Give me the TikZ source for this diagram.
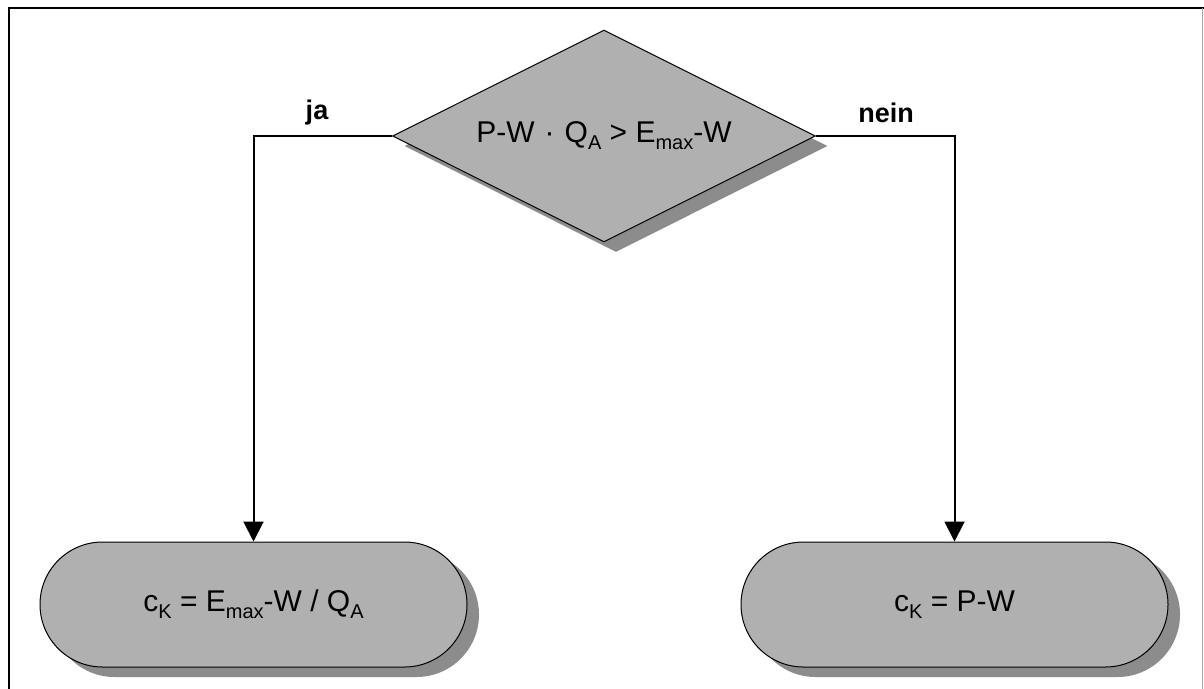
\documentclass[tikz,border=0pt]{standalone}
\usepackage{fontspec}
\setmainfont{Liberation Sans}
\usetikzlibrary{shapes.geometric,shapes.misc,shadows,arrows.meta}

% lowered, smaller index text
\newcommand\idx[1]{\raisebox{-7pt}{\fontsize{20}{20}\selectfont #1}}

\begin{document}
\begin{tikzpicture}[x=1pt,y=-1pt,
  boxfill/.style={fill=black!31, draw=black, line width=1pt},
  boxshadow/.style={drop shadow={shadow xshift=12pt, shadow yshift=-10pt,
                    fill=black!45, opacity=1}},
  decision/.style={diamond, aspect=2, boxfill, boxshadow, inner sep=0pt,
                   minimum width=423pt, minimum height=212pt,
                   font=\fontsize{30}{32}\selectfont},
  terminal/.style={rounded rectangle, boxfill, boxshadow, inner sep=0pt,
                   minimum width=427pt, minimum height=125pt,
                   font=\fontsize{30}{32}\selectfont},
  conn/.style={line width=2pt, -{Triangle[width=20pt,length=20pt]}},
  branch/.style={font=\bfseries\fontsize{27}{29}\selectfont}
]
  % page and frame
  \fill[white] (0,0) rectangle (1204,688);
  \useasboundingbox (0,0) rectangle (1204,688);
  \draw[line width=2.5pt] (9,700) -- (9,8) -- (1204,8);
  \draw[black!35, line width=1pt] (1202.5,8) -- (1202.5,700);

  % decision and outcomes
  \node[decision] (dec) at (604,136) {P-W\,\,·\,\,Q\idx{A} > E\idx{max}-W};
  \node[terminal] (yes) at (253.5,604.5) {c\idx{K} = E\idx{max}-W / Q\idx{A}};
  \node[terminal] (no)  at (954.5,604.5) {c\idx{K} = P-W};

  % branches
  \draw[conn] (dec.west) -| (yes.north);
  \draw[conn] (dec.east) -| (no.north);
  \node[branch] (ja)   at (317,113) {ja};
  \node[branch] (nein) at (886,113) {nein};
\end{tikzpicture}
\end{document}
